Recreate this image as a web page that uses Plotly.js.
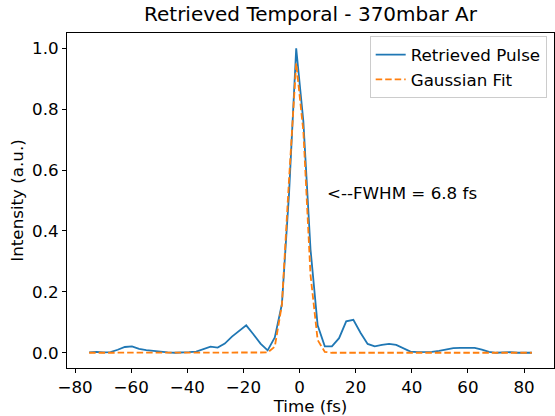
<!DOCTYPE html>
<html>
<head>
<meta charset="utf-8">
<script src="https://cdn.plot.ly/plotly-3.0.1.min.js"></script>
<style>html,body{margin:0;padding:0;background:#fff;}#chart{width:555px;height:416px;}</style>
</head>
<body>
<div id="chart"></div>
<script>
const timeFs = [-75.00,-72.46,-69.91,-67.37,-64.82,-62.28,-59.73,-57.19,-54.64,-52.10,
  -49.55,-47.01,-44.46,-41.92,-39.37,-36.83,-34.28,-31.74,-29.19,-26.65,
  -24.10,-21.56,-19.01,-16.47,-13.92,-11.38,-8.83,-6.29,-3.74,-1.20,
  1.35,3.90,6.44,8.99,11.53,14.08,16.62,19.17,21.71,24.26,
  26.80,29.35,31.89,34.44,36.98,39.53,42.07,44.62,47.16,49.71,
  52.25,54.80,57.34,59.89,62.43,64.98,67.52,70.07,72.61,75.16,
  77.70,80.25,82.79];
const retrievedPulse = [0.001,0.003,0.001,0.002,0.010,0.019,0.021,0.013,0.009,0.006,
  0.003,0.001,0.000,0.000,0.002,0.004,0.012,0.020,0.017,0.030,
  0.053,0.072,0.090,0.061,0.030,0.008,0.050,0.160,0.525,1.000,
  0.760,0.340,0.090,0.021,0.021,0.048,0.103,0.108,0.066,0.029,
  0.021,0.026,0.029,0.026,0.015,0.004,0.002,0.002,0.003,0.006,
  0.011,0.015,0.016,0.016,0.016,0.010,0.003,0.000,0.001,0.002,
  0.000,0.000,0.000];
const gaussianFit = [0,0,0,0,0,0,0,0,0,0,
  0,0,0,0,0,0,0,0,0,0,
  0,0,0,0,0,0.001,0.020,0.158,0.572,0.951,
  0.728,0.256,0.042,0.003,0,0,0,0,0,0,
  0,0,0,0,0,0,0,0,0,0,
  0,0,0,0,0,0,0,0,0,0,
  0,0,0];
const xTicks = [-80,-60,-40,-20,0,20,40,60,80];
const yTicks = [0,0.2,0.4,0.6,0.8,1.0];
const annotationText = '<--FWHM = 6.8 fs';

const font = 'DejaVu Sans, sans-serif';
const fs = 16.7;
const traces = [
  {x: timeFs, y: retrievedPulse, type: 'scatter', mode: 'lines', name: 'Retrieved Pulse',
   line: {color: '#1f77b4', width: 1.8}},
  {x: timeFs, y: gaussianFit, type: 'scatter', mode: 'lines', name: 'Gaussian Fit',
   line: {color: '#ff7f0e', width: 1.8, dash: '6.5px,3px'}}
];
const axisCommon = {
  showgrid: false, zeroline: false, showline: true, mirror: true,
  linecolor: '#000', linewidth: 1, ticks: 'outside', ticklen: 4, tickwidth: 1, tickcolor: '#000',
  tickfont: {family: font, size: fs, color: '#000'}
};
const layout = {
  width: 555, height: 416,
  margin: {l: 67, r: 1, t: 33, b: 48},
  paper_bgcolor: '#fff', plot_bgcolor: '#fff',
  font: {family: font, color: '#000'},
  title: {text: 'Retrieved Temporal - 370mbar Ar', font: {family: font, size: 20, color: '#000'},
          x: 0.5, xref: 'paper', y: 1, yref: 'container', yanchor: 'top', pad: {t: 7}},
  xaxis: Object.assign({}, axisCommon, {range: [-82.89, 90.68], tickvals: xTicks,
          title: {text: 'Time (fs)', font: {family: font, size: fs, color: '#000'}, standoff: 0}}),
  yaxis: Object.assign({}, axisCommon, {range: [-0.05, 1.05], tickvals: yTicks, tickformat: '.1f',
          title: {text: 'Intensity (a.u.)', font: {family: font, size: fs, color: '#000'}, standoff: 4}}),
  legend: {x: 0.985, xanchor: 'right', y: 0.99, yanchor: 'top', bgcolor: 'rgba(255,255,255,0.8)',
           bordercolor: '#ccc', borderwidth: 1, font: {family: font, size: fs, color: '#000'}},
  annotations: [{x: 9.2, y: 0.5, xref: 'x', yref: 'y', text: annotationText, showarrow: false,
                 xanchor: 'left', yanchor: 'bottom', yshift: -4, font: {family: font, size: fs, color: '#000'}}],
  showlegend: true
};
Plotly.newPlot('chart', traces, layout, {displayModeBar: false, staticPlot: true});
</script>
</body>
</html>
